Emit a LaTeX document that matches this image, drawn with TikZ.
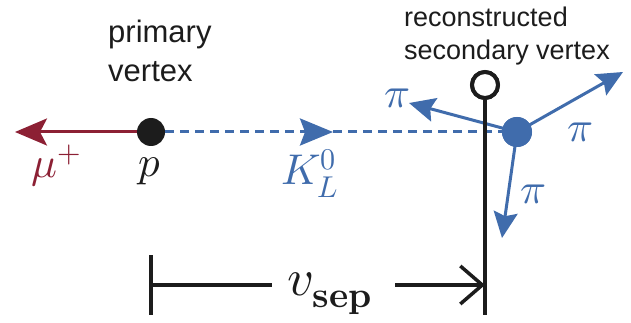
\documentclass[tikz,border=0pt]{standalone}
\usepackage{fontspec}
\usepackage{unicode-math}
\setmainfont{Liberation Sans}
\setmathfont{Latin Modern Math}
\usetikzlibrary{arrows.meta}
\definecolor{cred}{RGB}{140,32,52}
\definecolor{cblue}{RGB}{64,108,172}
\definecolor{cblack}{RGB}{28,28,28}
\begin{document}
\begin{tikzpicture}[x=1pt,y=-1pt,
  lbl/.style={inner sep=0pt,anchor=base},
  mathlbl/.style={lbl,font=\fontsize{43}{45}\selectfont},
  bluearrow/.style={cblue,line width=3pt,-{Stealth[length=26pt,width=24pt,inset=4pt]}},
  txt/.style={inner sep=0pt,anchor=base west,align=left,text=cblack}]
\useasboundingbox (0,0) rectangle (631,323);
% nodes
\node[circle,fill=cblack,inner sep=0pt,minimum size=28pt] (p) at (151,132) {};
\node[circle,fill=cblue,inner sep=0pt,minimum size=30pt] (s) at (517,132) {};
\node[circle,draw=cblack,line width=4pt,fill=white,inner sep=0pt,minimum size=26pt] (r) at (485,85) {};
\coordinate (mu) at (15,132);
\coordinate (kt) at (333,132);
\coordinate (ulp) at (409,103);
\coordinate (urp) at (623,72);
\coordinate (dnp) at (502,238);
\coordinate (vb) at (485,315);
\coordinate (lt) at (151,255);
\coordinate (lb) at (151,315);
\coordinate (lm) at (151,285);
\coordinate (la) at (272,285);
\coordinate (ra) at (395,285);
\coordinate (rm) at (485,285);
% texts
\node[txt,font=\fontsize{31}{39}\selectfont] (pv) at (108,82) {primary\\vertex};
\node[txt,font=\fontsize{27}{33}\selectfont] (sv) at (404,60) {reconstructed\\secondary vertex};
\node[mathlbl,text=cred] (mul) at (56,178) {$\mu^+$};
\node[mathlbl,text=cblack] (pl) at (150,177) {$p$};
\node[mathlbl,text=cblue] (kl) at (310,185) {$K_L^0$};
\node[mathlbl,text=cblue] (pi1) at (397,108) {$\pi$};
\node[mathlbl,text=cblue] (pi2) at (580,142) {$\pi$};
\node[mathlbl,text=cblue] (pi3) at (533,204) {$\pi$};
\node[lbl,font=\fontsize{52}{54}\selectfont,text=cblack] (vs) at (330,295) {$v_{\symbf{sep}}$};
% connectors
\draw[cred,line width=3pt,-{Stealth[length=32pt,width=27pt,inset=7pt]}] (p.west) -- (mu);
\draw[cblue,line width=3pt,dash pattern=on 9pt off 6pt,-{Stealth[length=33pt,width=27pt,inset=5pt]}] (p.east) -- (kt);
\draw[cblue,line width=3pt,dash pattern=on 9pt off 6pt] (kt) -- (s.center);
\draw[bluearrow] (s.center) -- (ulp);
\draw[bluearrow] (s.center) -- (urp);
\draw[bluearrow] (s.center) -- (dnp);
\node[circle,fill=cblue,inner sep=0pt,minimum size=30pt] at (s) {};
\draw[cblack,line width=3.5pt] (r.south) -- (vb);
\node[circle,draw=cblack,line width=4pt,fill=white,inner sep=0pt,minimum size=26pt] at (r) {};
\draw[cblack,line width=3.5pt] (lt) -- (lb);
\draw[cblack,line width=3.5pt] (lm) -- (la);
\draw[cblack,line width=3.5pt,-{Straight Barb[length=22pt,width=38pt]}] (ra) -- (rm);
\end{tikzpicture}
\end{document}
